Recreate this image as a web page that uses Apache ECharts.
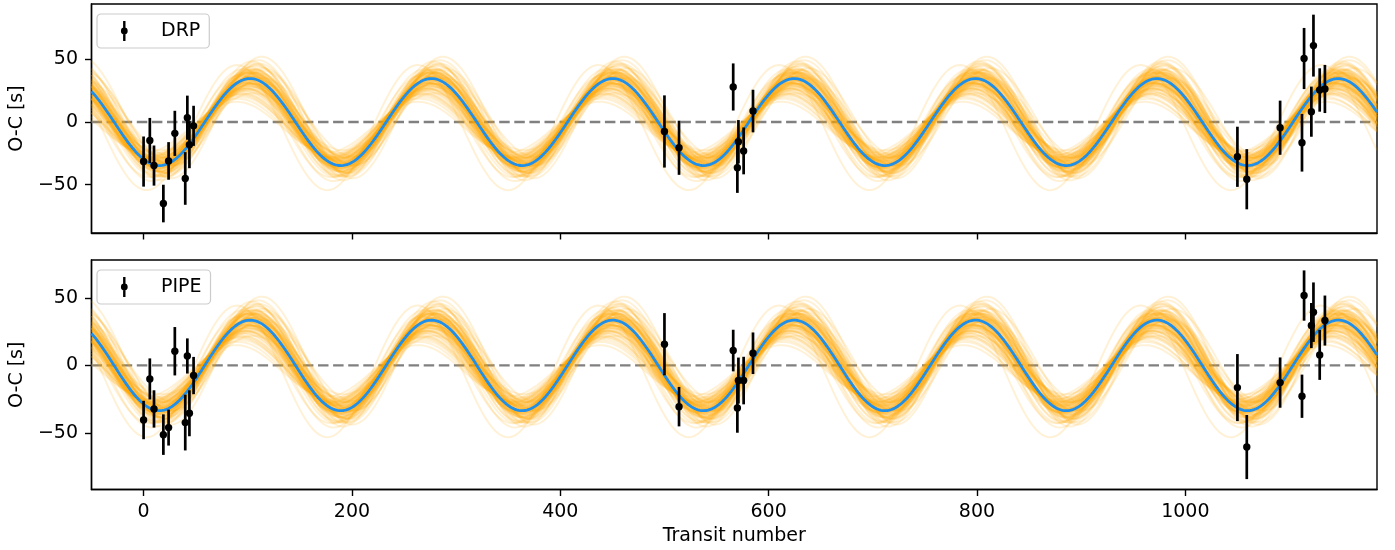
<!DOCTYPE html>
<html>
<head>
<meta charset="utf-8">
<script src="https://cdn.jsdelivr.net/npm/echarts@6/dist/echarts.min.js"></script>
<style>
  html, body { margin: 0; padding: 0; background: #fff; }
  #chart { width: 1395px; height: 550px; }
</style>
</head>
<body>
<div id="chart"></div>
<script>
// Observed transits (shared by both photometry pipelines)
const transitNumbers = [0, 6, 10, 19, 24, 30, 40, 42, 44, 48,
  500, 514, 566, 570, 571, 576, 585,
  1050, 1059, 1091, 1112, 1114, 1121, 1123, 1129, 1134];

// O-C timing residuals [s] and 1-sigma uncertainties, DRP pipeline
const drpOC = [-31.5, -14.7, -34.7, -65, -31, -9, -45, 3.5, -18, -3,
  -7.5, -20.5, 28, -36.5, -15.7, -23, 8.8,
  -27.7, -45.6, -4.5, -16.5, 50.7, 8.3, 61, 25.6, 26.4];
const drpErr = [20, 18, 16, 15, 15, 18, 21, 17.6, 18.8, 16,
  28.8, 21.6, 18.8, 20, 17.3, 18.7, 17,
  24, 24, 21.6, 23, 24.4, 20, 24.7, 17.3, 19.2];

// O-C timing residuals [s] and 1-sigma uncertainties, PIPE pipeline
const pipeOC = [-40.4, -10, -32.2, -51.2, -46, 10.5, -42.3, 7, -35.4, -7.5,
  15.7, -30.5, 11, -31.5, -11.2, -11.2, 9,
  -16.4, -60.4, -12.7, -22.8, 51.7, 29.5, 39.4, 7.8, 33.2];
const pipeErr = [14.2, 15.2, 13.8, 15, 13.3, 17.9, 20.6, 13, 17, 13.8,
  23, 14.6, 15.4, 18.3, 17, 17.6, 15.4,
  24.8, 23.7, 18.6, 16, 18.6, 16.7, 22, 18.5, 18.5];

// Axis extents and tick labels
const xRange = [-50, 1184];
const xTicks = [0, 200, 400, 600, 800, 1000];
const yTicks = [-50, 0, 50];
const drpYRange = [-88.5, 94.2];
const pipeYRange = [-91.8, 78];

// Best-fit sinusoidal TTV: [amplitude s, period transits, epoch of minimum]
const drpFit = [34.7, 174.1, 537.5];
const pipeFit = [33.5, 174.1, 537.5];

// Posterior draws, stored as offsets from the best fit
const drawDA = [3.1, -4.6, 7.8, -1.2, 0.5, -8.9, 5.4, -2.7, 11.6, -6.1,
  2.2, -0.8, -11.3, 4.9, -3.5, 8.3, -5.8, 1.4, -9.7, 6.6,
  -2.1, 13.8, -4.2, 0.9, 5.9, -7.4, 3.7, -1.9, -14.5, 9.2,
  -0.3, 4.4, -6.8, 2.8, -10.2, 7.1, -3.1, 0.1, 6.3, -5.1,
  1.8, -12.4, 10.5, -2.4, 3.3, -7.9, 5.0, -0.6, 8.8, -4.0,
  2.5, -9.1, 12.7, -3.8, 0.7, -6.3, 4.1, -1.5, -8.2, 7.6,
  -2.9, 1.1, 9.9, -5.5, 3.9, -11.9, 6.0, -0.1, -4.8, 2.0,
  15.2, -7.1, 4.7, -2.2, 0.4, -9.5, 6.9, -3.4, 1.6, -5.9];
const drawDP = [0.21, -0.35, 0.08, 0.52, -0.14, 0.33, -0.61, 0.02, 0.44, -0.27,
  -0.05, 0.71, -0.42, 0.16, -0.88, 0.29, 0.05, -0.19, 0.63, -0.51,
  0.38, -0.09, 0.12, -0.66, 0.47, -0.31, 0.95, -0.02, 0.25, -0.44,
  0.57, -0.23, 0.09, -0.78, 0.34, 0.01, -0.56, 0.19, -0.12, 0.81,
  -0.37, 0.26, -0.07, 0.49, -0.95, 0.14, 0.36, -0.29, 0.03, -0.47,
  0.68, -0.16, 0.41, -0.71, 0.23, -0.04, 0.55, -0.39, 0.11, -0.22,
  0.86, -0.58, 0.18, -0.11, 0.31, -0.83, 0.06, 0.45, -0.33, 0.27,
  -0.64, 0.13, -0.01, 0.59, -0.25, 0.39, -0.48, 0.07, -0.17, 0.74];
const drawDT = [1.8, -3.9, 5.6, -0.7, 2.9, -6.8, 0.4, -2.3, 8.7, -4.6,
  3.4, -1.2, -9.8, 4.7, -0.2, 6.2, -5.1, 1.1, -7.4, 2.5,
  -3.0, 10.9, -1.9, 0.8, 4.0, -5.9, 3.1, -0.5, -12.6, 7.3,
  -2.6, 1.5, -4.4, 5.2, -8.5, 0.3, -1.6, 6.8, -3.3, 2.1,
  -0.9, -10.7, 3.8, -2.0, 9.4, -6.1, 1.3, -4.9, 0.6, 5.9,
  -1.4, -7.9, 2.7, -0.1, 4.5, -3.6, 13.1, -5.4, 1.9, -2.8,
  7.7, -0.4, -6.6, 3.3, -1.1, 0.9, -9.1, 4.2, -2.4, 6.4,
  -14.2, 2.3, -0.8, 5.0, -3.2, 1.6, -5.7, 11.8, -1.7, 0.2];
const drawDC = [0.8, -1.5, 2.2, -0.4, 1.1, -2.6, 0.2, -0.9, 3.1, -1.8,
  1.3, -0.2, -3.4, 1.9, -0.6, 2.4, -2.0, 0.5, -2.9, 1.0,
  -1.1, 3.6, -0.7, 0.3, 1.6, -2.3, 1.2, -0.1, -4.0, 2.8,
  -0.8, 0.6, -1.7, 2.0, -3.1, 0.1, -0.5, 2.6, -1.3, 0.9,
  -0.3, -3.7, 1.5, -0.8, 3.3, -2.1, 0.4, -1.9, 0.2, 2.3,
  -0.6, -2.8, 1.0, 0.0, 1.7, -1.4, 4.2, -2.2, 0.7, -1.0,
  2.9, -0.2, -2.5, 1.4, -0.4, 0.3, -3.3, 1.8, -0.9, 2.5,
  -4.4, 0.9, -0.3, 1.9, -1.2, 0.6, -2.2, 3.9, -0.7, 0.1];

const FONT = 'DejaVu Sans';
const FS = 19;

// Evaluate the sinusoidal TTV model across the plotted range
function ttvModel(amp, period, epoch, offset) {
  const pts = [];
  for (let n = xRange[0]; n <= xRange[1]; n += 2) {
    pts.push([n, offset - amp * Math.cos(2 * Math.PI * (n - epoch) / period)]);
  }
  return pts;
}

function panelSeries(idx, name, fit, oc, err) {
  const list = [];
  // zero reference
  list.push({
    type: 'line', xAxisIndex: idx, yAxisIndex: idx, silent: true,
    data: [[xRange[0], 0], [xRange[1], 0]], symbol: 'none', z: 1,
    lineStyle: { color: '#808080', width: 2.4, type: [10.5, 4.6] }
  });
  // posterior draws
  for (let i = 0; i < drawDA.length; i++) {
    list.push({
      type: 'line', xAxisIndex: idx, yAxisIndex: idx, silent: true,
      symbol: 'none', z: 2,
      data: ttvModel(fit[0] + drawDA[i], fit[1] + drawDP[i], fit[2] + drawDT[i], drawDC[i]),
      lineStyle: { color: 'rgba(255,165,0,0.16)', width: 2 }
    });
  }
  // best fit
  list.push({
    type: 'line', xAxisIndex: idx, yAxisIndex: idx, silent: true,
    symbol: 'none', z: 3,
    data: ttvModel(fit[0], fit[1], fit[2], 0),
    lineStyle: { color: '#1f8fea', width: 2.8 }
  });
  // measurements with error bars
  list.push({
    type: 'custom', name: name, xAxisIndex: idx, yAxisIndex: idx, z: 4,
    itemStyle: { color: '#000' },
    encode: { x: 0, y: 1 },
    data: transitNumbers.map((t, i) => [t, oc[i], err[i]]),
    renderItem: function (params, api) {
      const x = api.value(0), y = api.value(1), e = api.value(2);
      const lo = api.coord([x, y - e]);
      const hi = api.coord([x, y + e]);
      const c = api.coord([x, y]);
      return {
        type: 'group',
        children: [
          { type: 'line', shape: { x1: lo[0], y1: lo[1], x2: hi[0], y2: hi[1] },
            style: { stroke: '#000', lineWidth: 2.7 } },
          { type: 'circle', shape: { cx: c[0], cy: c[1], r: 3.7 },
            style: { fill: '#000' } }
        ]
      };
    }
  });
  return list;
}

const minusFmt = v => String(v).replace('-', '\u2212');

function xAxisCfg(idx, withLabels) {
  const ax = {
    gridIndex: idx, type: 'value', min: xRange[0], max: xRange[1],
    axisLine: { show: true, onZero: false, lineStyle: { color: '#000', width: 1.4 } },
    axisTick: { show: true, customValues: xTicks, length: 6.5, lineStyle: { color: '#000', width: 1.4 } },
    axisLabel: { show: withLabels, customValues: xTicks, margin: 13.5, formatter: minusFmt,
      fontSize: FS, fontFamily: FONT, color: '#000' },
    splitLine: { show: false }
  };
  if (withLabels) {
    ax.name = 'Transit number';
    ax.nameLocation = 'middle';
    ax.nameGap = 37;
    ax.nameTextStyle = { fontSize: FS, fontFamily: FONT, color: '#000' };
  }
  return ax;
}

function yAxisCfg(idx, range) {
  return {
    gridIndex: idx, type: 'value', min: range[0], max: range[1],
    name: 'O-C [s]', nameLocation: 'middle', nameGap: 56, nameRotate: 90,
    nameTextStyle: { fontSize: FS, fontFamily: FONT, color: '#000' },
    axisLine: { show: true, onZero: false, lineStyle: { color: '#000', width: 1.4 } },
    axisTick: { show: true, customValues: yTicks, length: 6.5, lineStyle: { color: '#000', width: 1.4 } },
    axisLabel: { customValues: yTicks, margin: 13.5, formatter: minusFmt,
      fontSize: FS, fontFamily: FONT, color: '#000' },
    splitLine: { show: false }
  };
}

// errorbar legend glyph: vertical bar with a filled dot, inside a 50x20 box
const errIcon = 'path://M0,0M50,20M17.1,0h2.4v20h-2.4zM18.3,6.6a3.4,3.4 0 1 1 -0.01,0z';

function legendCfg(name, top) {
  return {
    data: [name], left: 97, top: top, orient: 'vertical',
    selectedMode: false, icon: errIcon, itemWidth: 50, itemHeight: 20,
    padding: [7, 9, 7, 9],
    backgroundColor: 'rgba(255,255,255,0.8)', borderColor: '#cccccc',
    borderWidth: 1.2, borderRadius: 4,
    textStyle: { fontSize: FS, fontFamily: FONT, color: '#000' }
  };
}

const chart = echarts.init(document.getElementById('chart'), null, { renderer: 'canvas' });
chart.setOption({
  animation: false,
  backgroundColor: '#fff',
  grid: [
    { left: 88, top: 4, width: 1289, height: 229, show: true, borderColor: '#000', borderWidth: 1.4 },
    { left: 88, top: 260, width: 1289, height: 229.5, show: true, borderColor: '#000', borderWidth: 1.4 }
  ],
  xAxis: [xAxisCfg(0, false), xAxisCfg(1, true)],
  yAxis: [yAxisCfg(0, drpYRange), yAxisCfg(1, pipeYRange)],
  legend: [legendCfg('DRP', 14), legendCfg('PIPE', 270)],
  series: [].concat(
    panelSeries(0, 'DRP', drpFit, drpOC, drpErr),
    panelSeries(1, 'PIPE', pipeFit, pipeOC, pipeErr)
  )
});
</script>
</body>
</html>
